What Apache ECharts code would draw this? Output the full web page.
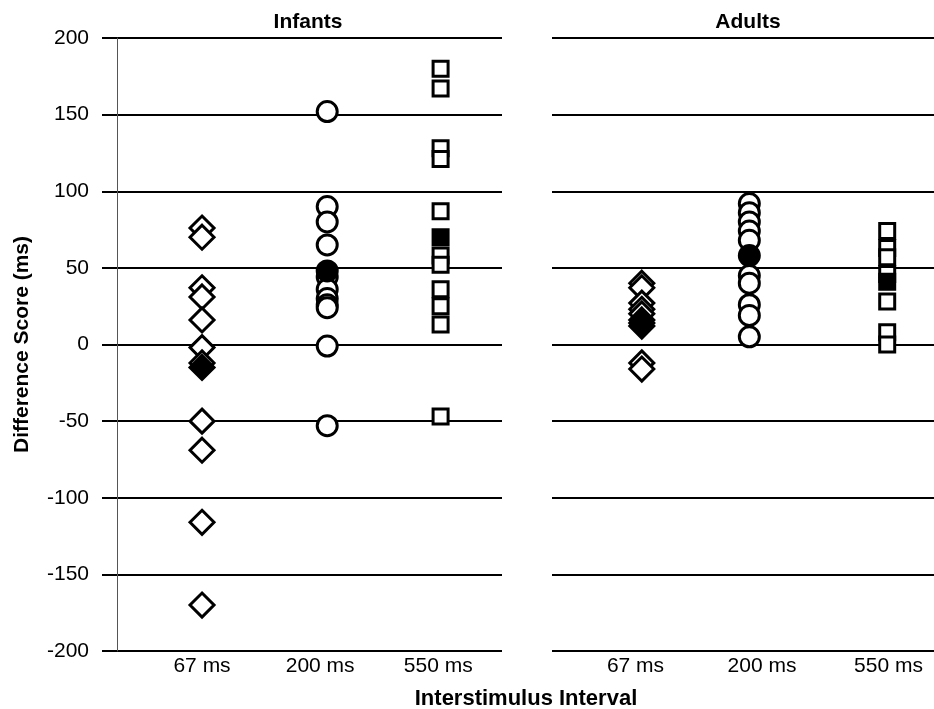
<!DOCTYPE html>
<html>
<head>
<meta charset="utf-8">
<script src="https://cdn.jsdelivr.net/npm/echarts@6/dist/echarts.min.js"></script>
<style>html,body{margin:0;padding:0;background:#fff}#chart{width:934px;height:709px}</style>
</head>
<body>
<div id="chart"></div>
<script>
const categories = ['67 ms', '200 ms', '550 ms'];
const yTicks = [-200, -150, -100, -50, 0, 50, 100, 150, 200];
// x value of each ISI group, as placed in the picture (group index 1..3)
const infantGroupX = [1.0, 2.06, 3.02];
const adultGroupX = [1.05, 1.9, 2.99];

// Infants: individual difference scores (ms) and group means (filled)
const infant67 = [76, 70, 37, 31, 16, -2, -12, -50, -69, -116, -170];
const infant200 = [152, 90, 80, 65, 44, 36, 30, 26, 24, -1, -53];
const infant550 = [180, 167, 128, 121, 87, 58, 52, 36, 25, 13, -47];
const infantMeans = [-15, 48, 70];

// Adults
const adult67 = [40, 37, 27, 23, 20, 16, 12, -12, -16];
const adult200 = [92, 86, 80, 74, 68, 45, 40, 26, 19, 5];
const adult550 = [74, 63, 57, 46, 28, 8, 0];
const adultMeans = [14, 58, 41];

const symbols = ['diamond', 'circle', 'rect'];
const sizes = [[24, 24], 20, 15];
const FONT = 'Liberation Sans';

function pts(x, arr) { return arr.map(v => [x, v]); }

function groupSeries(axisIdx, groupX, groups, means) {
  const out = [];
  groups.forEach((arr, i) => {
    out.push({
      type: 'scatter', xAxisIndex: axisIdx, yAxisIndex: axisIdx,
      symbol: symbols[i], symbolSize: sizes[i],
      itemStyle: { color: '#fff', borderColor: '#000', borderWidth: 3, opacity: 1 },
      data: pts(groupX[i], arr), silent: true, z: 3
    });
    out.push({
      type: 'scatter', xAxisIndex: axisIdx, yAxisIndex: axisIdx,
      symbol: symbols[i], symbolSize: sizes[i],
      itemStyle: { color: '#000', borderColor: '#000', borderWidth: 3, opacity: 1 },
      data: [[groupX[i], means[i]]], silent: true, z: 4
    });
  });
  return out;
}

function xAxisDef(idx, min, max) {
  return {
    type: 'value', gridIndex: idx, min: min, max: max,
    axisLine: { show: false }, axisTick: { show: false }, splitLine: { show: false },
    axisLabel: {
      customValues: [1, 2, 3],
      formatter: v => categories[Math.round(v) - 1],
      color: '#000', fontFamily: FONT, fontSize: 21, margin: 5
    }
  };
}

function yAxisDef(idx, showAxis) {
  return {
    type: 'value', gridIndex: idx, min: yTicks[0], max: yTicks[yTicks.length - 1], interval: 50,
    axisLine: { show: showAxis, lineStyle: { color: '#555', width: 1 } },
    axisTick: { show: showAxis, length: 15, lineStyle: { color: '#000', width: 2 } },
    axisLabel: { show: showAxis, color: '#000', fontFamily: FONT, fontSize: 21, margin: 28 },
    splitLine: { show: true, lineStyle: { color: '#000', width: 2 } },
    name: showAxis ? 'Difference Score (ms)' : '',
    nameLocation: 'middle', nameGap: 84, nameRotate: 90,
    nameTextStyle: { color: '#000', fontFamily: FONT, fontSize: 21, fontWeight: 'bold' }
  };
}

const chart = echarts.init(document.getElementById('chart'));
chart.setOption({
  animation: false,
  backgroundColor: '#fff',
  title: [
    { text: 'Infants', left: 303, top: 7, textAlign: 'center',
      textStyle: { fontFamily: FONT, fontSize: 21, fontWeight: 'bold', color: '#000' } },
    { text: 'Adults', left: 743, top: 7, textAlign: 'center',
      textStyle: { fontFamily: FONT, fontSize: 21, fontWeight: 'bold', color: '#000' } },
    { text: 'Interstimulus Interval', left: 521, top: 683, textAlign: 'center',
      textStyle: { fontFamily: FONT, fontSize: 22, fontWeight: 'bold', color: '#000' } }
  ],
  grid: [
    { left: 117, top: 38, width: 385, height: 613 },
    { left: 552, top: 38, width: 382, height: 613 }
  ],
  xAxis: [xAxisDef(0, 0.28, 3.54), xAxisDef(1, 0.34, 3.36)],
  yAxis: [yAxisDef(0, true), yAxisDef(1, false)],
  series: [
    ...groupSeries(0, infantGroupX, [infant67, infant200, infant550], infantMeans),
    ...groupSeries(1, adultGroupX, [adult67, adult200, adult550], adultMeans)
  ]
});
</script>
</body>
</html>
